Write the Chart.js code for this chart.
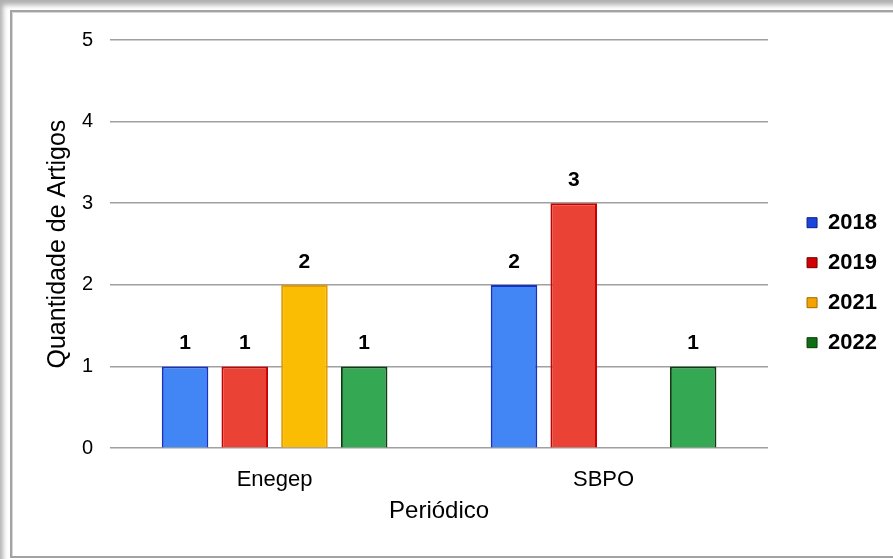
<!DOCTYPE html>
<html><head><meta charset="utf-8">
<script src="https://cdn.jsdelivr.net/npm/chart.js@4.4.0/dist/chart.umd.min.js"></script>
<style>
html,body{margin:0;padding:0;background:#fff;width:893px;height:559px;overflow:hidden;}
#shadow{position:absolute;left:0;top:0;width:893px;height:559px;box-shadow:inset 5px 7px 5px -2px #b0b0b0;}
#frame{position:absolute;left:10px;top:10px;width:900px;height:544px;border:2px solid #a3a3a3;border-right:none;box-shadow:inset 1px 1px 0 #d8d8d8;}
#wrap{position:absolute;left:0;top:0;width:893px;height:559px;}
</style></head><body>
<div id="shadow"></div><div id="frame"></div>
<div id="wrap"><canvas id="c"></canvas></div>
<script>
// ---- data ----
const categories = ['Enegep', 'SBPO'];
const seriesNames = ['2018', '2019', '2021', '2022'];
const values2018 = [1, 2];
const values2019 = [1, 3];
const values2021 = [2, null];
const values2022 = [1, 1];
const yTickValues = [0, 1, 2, 3, 4, 5];
const xTitle = 'Periódico';
const yTitle = 'Quantidade de Artigos';

// ---- styles ----
const FONT = '"Liberation Sans", Arial, sans-serif';
const fillColors = ['#4285F4', '#EA4335', '#FBBC04', '#34A853'];
const borderColors = ['#1232c8', '#c40000', '#e39c00', '#0b3d10'];
const legendFill = ['#1a44dc', '#d20000', '#f5a300', '#0f6e14'];
const legendStroke = ['#0a1f80', '#700000', '#a06a00', '#063a08'];

const seriesValues = [values2018, values2019, values2021, values2022];

const valueLabels = {
  id: 'valueLabels',
  afterDatasetsDraw(chart) {
    const ctx = chart.ctx;
    ctx.save();
    ctx.font = 'bold 21px ' + FONT;
    ctx.fillStyle = '#000';
    ctx.textAlign = 'center';
    ctx.textBaseline = 'middle';
    chart.data.datasets.forEach((ds, i) => {
      const meta = chart.getDatasetMeta(i);
      meta.data.forEach((bar, j) => {
        const v = ds.data[j];
        if (v == null) return;
        ctx.fillText(String(v), bar.x, bar.y - 23);
      });
    });
    ctx.restore();
  }
};

new Chart(document.getElementById('c'), {
  type: 'bar',
  data: {
    labels: categories,
    datasets: seriesNames.map((name, i) => ({
      label: name,
      data: seriesValues[i],
      backgroundColor: fillColors[i],
      borderColor: borderColors[i],
      borderWidth: 2,
      categoryPercentage: 0.726,
      barPercentage: 0.78
    }))
  },
  options: {
    responsive: true,
    maintainAspectRatio: false,
    animation: false,
    devicePixelRatio: 1,
    layout: { padding: { left: 43, right: 6, top: 40, bottom: 33.6 } },
    plugins: {
      tooltip: { enabled: false },
      legend: {
        position: 'right',
        align: 'center',
        labels: {
          boxWidth: 10,
          boxHeight: 10,
          padding: 18,
          color: '#000',
          font: { family: FONT, size: 22, weight: 'bold' },
          generateLabels(chart) {
            return chart.data.datasets.map((ds, i) => ({
              text: ds.label,
              fillStyle: legendFill[i],
              strokeStyle: legendStroke[i],
              lineWidth: 1,
              fontColor: '#000',
              hidden: false,
              datasetIndex: i
            }));
          }
        }
      }
    },
    scales: {
      x: {
        grid: { display: false },
        border: { display: false },
        ticks: { color: '#000', padding: 11, font: { family: FONT, size: 22 } },
        title: { display: true, text: xTitle, color: '#000', font: { family: FONT, size: 24 }, padding: { top: -8, bottom: 0 } }
      },
      y: {
        min: 0,
        max: 5,
        afterBuildTicks(scale) { scale.ticks = yTickValues.map(v => ({ value: v })); },
        grid: { color: '#a0a0a0', lineWidth: 1.6, drawTicks: false },
        border: { display: false },
        ticks: { color: '#000', padding: 17, font: { family: FONT, size: 20 } },
        title: { display: true, text: yTitle, color: '#000', font: { family: FONT, size: 25 }, padding: { top: 0, bottom: -8 } }
      },
      gap: {
        type: 'linear',
        axis: 'y',
        position: 'right',
        display: true,
        grid: { display: false },
        border: { display: false },
        ticks: { display: false },
        afterFit(scale) { scale.width = 21; }
      }
    }
  },
  plugins: [valueLabels]
});
</script>
</body></html>
